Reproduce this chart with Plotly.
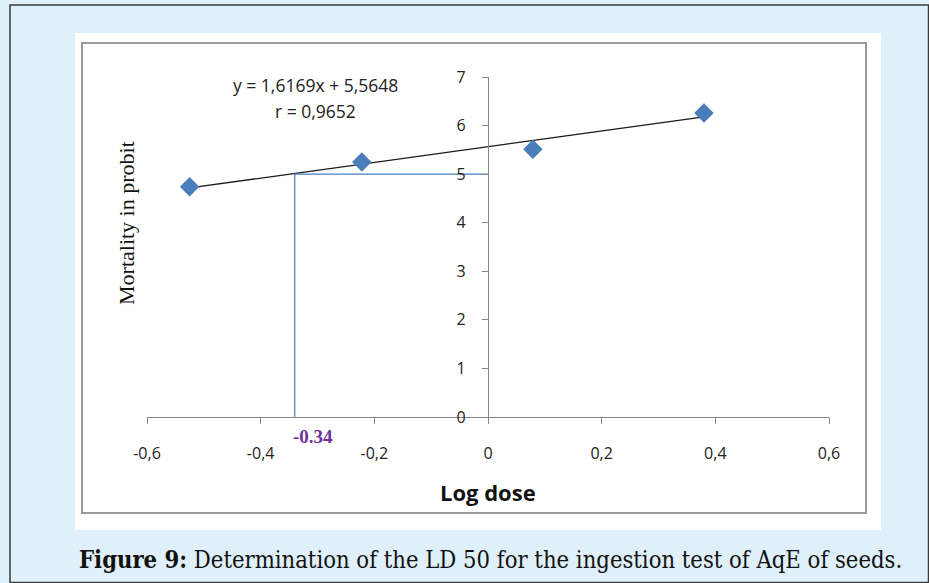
import plotly.graph_objects as go

W, H = 929, 583

# Data
log_dose = [-0.525, -0.222, 0.079, 0.38]
probit = [4.74, 5.25, 5.51, 6.26]
slope, intercept = 1.6169, 5.5648
ld50_x = -0.34
ld50_y = 5
x_ticks = [-0.6, -0.4, -0.2, 0, 0.2, 0.4, 0.6]
x_tick_labels = ["-0,6", "-0,4", "-0,2", "0", "0,2", "0,4", "0,6"]
y_ticks = [0, 1, 2, 3, 4, 5, 6, 7]
y_tick_labels = ["0", "1", "2", "3", "4", "5", "6", "7"]

def px(x):
    return x / W

def py(y):
    return 1 - y / H

fig = go.Figure()

# trend line
tx = [min(log_dose), max(log_dose)]
ty = [slope * v + intercept for v in tx]
fig.add_trace(go.Scatter(x=tx, y=ty, mode="lines",
                         line=dict(color="#1a1a1a", width=1.3),
                         showlegend=False, hoverinfo="skip"))
# LD50 guide lines
fig.add_trace(go.Scatter(x=[ld50_x, ld50_x, 0], y=[0, ld50_y, ld50_y], mode="lines",
                         line=dict(color="#4a7ebb", width=1.2),
                         showlegend=False, hoverinfo="skip"))
# points
fig.add_trace(go.Scatter(x=log_dose, y=probit, mode="markers",
                         marker=dict(symbol="diamond", size=15, color="#4a7ebb",
                                     line=dict(width=0)),
                         showlegend=False))

shapes = [
    # outer light blue frame
    dict(type="rect", xref="paper", yref="paper", x0=px(10), x1=px(928.5), y0=py(582.5), y1=py(5),
         fillcolor="#dff0fa", line=dict(color="#3a3a3a", width=1.5), layer="below"),
    # white panel
    dict(type="rect", xref="paper", yref="paper", x0=px(75), x1=px(881), y0=py(530), y1=py(33),
         fillcolor="white", line=dict(width=0), layer="below"),
    # inner chart border
    dict(type="rect", xref="paper", yref="paper", x0=px(82), x1=px(866), y0=py(513), y1=py(43),
         fillcolor="rgba(0,0,0,0)", line=dict(color="#9a9a9a", width=2), layer="below"),
]

def ann(text, x, y, family, size, color="#111111", angle=0):
    return dict(text=text, x=px(x), y=py(y), xref="paper", yref="paper",
                xanchor="center", yanchor="middle", showarrow=False, textangle=angle,
                font=dict(family=family, size=size, color=color))

annotations = [
    ann("y = 1,6169x + 5,5648", 315, 85, "Open Sans", 17.5, "#222222"),
    ann("r = 0,9652", 315, 111, "Open Sans", 17.5, "#222222"),
    ann("<b>-0.34</b>", 313, 436, "Liberation Serif", 19, "#7030a0"),
    ann("<b>Log dose</b>", 488, 492, "Open Sans", 22),
    ann("Mortality in probit", 126, 223, "Liberation Serif", 22, angle=-90),
    ann("<b>Figure 9:</b> Determination of the LD 50 for the ingestion test of AqE of seeds.",
        490, 560, "DejaVu Serif Condensed, Liberation Serif", 23.6),
]

fig.update_layout(
    template="none",
    width=W, height=H, margin=dict(l=0, r=0, t=0, b=0, pad=0), autosize=False,
    paper_bgcolor="#dff0fa", plot_bgcolor="rgba(0,0,0,0)",
    shapes=shapes, annotations=annotations,
    xaxis=dict(domain=[px(147), px(829)], range=[-0.6, 0.6], tickvals=x_ticks,
               ticktext=x_tick_labels, showgrid=False, zeroline=False, automargin=False,
               showline=True, linecolor="#868686", linewidth=1.3,
               ticks="outside", ticklen=6, tickcolor="#868686", ticklabelstandoff=16,
               tickfont=dict(family="Open Sans", size=16, color="#222222"),
               anchor="y", fixedrange=True),
    yaxis=dict(domain=[1 - 417 / H, 1 - 77 / H], range=[0, 7], tickvals=y_ticks,
               ticktext=y_tick_labels, showgrid=False, zeroline=False, automargin=False,
               showline=True, linecolor="#868686", linewidth=1.3,
               ticks="outside", ticklen=6, tickcolor="#868686", ticklabelstandoff=13,
               tickfont=dict(family="Open Sans", size=16, color="#222222"),
               anchor="free", position=px(488), fixedrange=True),
)

fig.write_html("out.html")
